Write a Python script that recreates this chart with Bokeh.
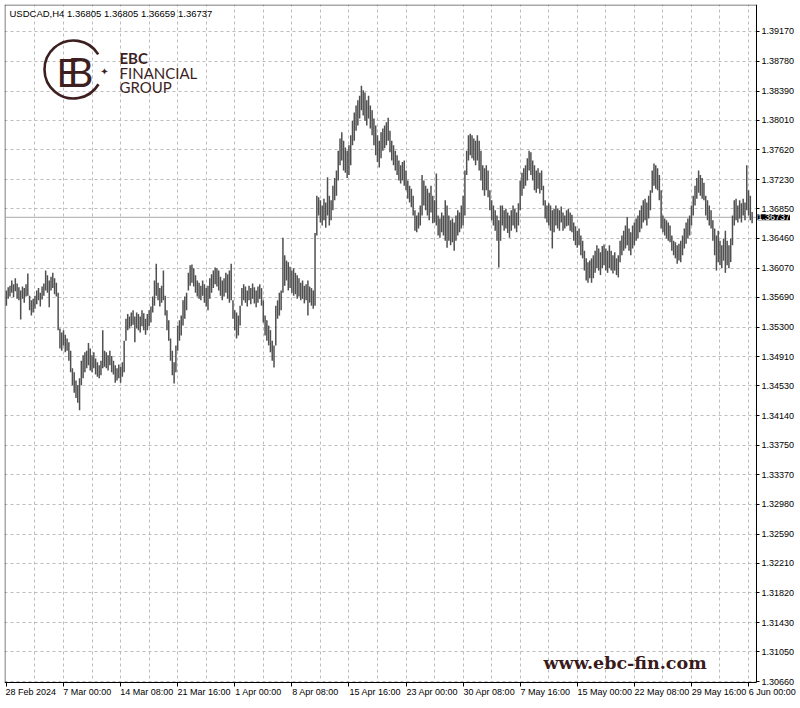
from bokeh.plotting import figure
from bokeh.models import FixedTicker, NumeralTickFormatter, Label, Range1d
from bokeh.embed import file_html
from bokeh.resources import INLINE

# ---------------- data ----------------
symbol = "USDCAD,H4"
last_bar = [1.36805, 1.36805, 1.36659, 1.36737]  # open, high, low, close of the last bar

time_labels = ["28 Feb 2024", "7 Mar 00:00", "14 Mar 08:00", "21 Mar 16:00", "1 Apr 00:00",
               "8 Apr 08:00", "15 Apr 16:00", "23 Apr 00:00", "30 Apr 08:00", "7 May 16:00",
               "15 May 00:00", "22 May 08:00", "29 May 16:00", "6 Jun 00:00"]
bars_per_label = 32
bars_per_grid = 16

price_ticks = [1.39170, 1.38780, 1.38390, 1.38010, 1.37620, 1.37230, 1.36850, 1.36460,
               1.36070, 1.35690, 1.35300, 1.34910, 1.34530, 1.34140, 1.33750, 1.33370,
               1.32980, 1.32590, 1.32210, 1.31820, 1.31430, 1.31050, 1.30660]

highs = [
    1.3578, 1.3582, 1.3584, 1.3591, 1.3586, 1.3594, 1.3587, 1.3582, 1.3578, 1.3583,
    1.3581, 1.3586, 1.3600, 1.3571, 1.3565, 1.3567, 1.3571, 1.3578, 1.3581, 1.3575,
    1.3583, 1.3587, 1.3604, 1.3598, 1.3591, 1.3596, 1.3601, 1.3594, 1.3588, 1.3575,
    1.3528, 1.3523, 1.3526, 1.3520, 1.3515, 1.3510, 1.3499, 1.3476, 1.3471, 1.3460,
    1.3454, 1.3463, 1.3486, 1.3493, 1.3497, 1.3499, 1.3509, 1.3502, 1.3493, 1.3497,
    1.3489, 1.3484, 1.3480, 1.3486, 1.3526, 1.3499, 1.3497, 1.3493, 1.3499, 1.3492,
    1.3486, 1.3480, 1.3476, 1.3481, 1.3478, 1.3484, 1.3512, 1.3541, 1.3547, 1.3544,
    1.3549, 1.3552, 1.3544, 1.3549, 1.3547, 1.3544, 1.3552, 1.3548, 1.3541, 1.3547,
    1.3552, 1.3557, 1.3570, 1.3591, 1.3613, 1.3588, 1.3581, 1.3584, 1.3604, 1.3571,
    1.3552, 1.3539, 1.3515, 1.3499, 1.3484, 1.3506, 1.3532, 1.3539, 1.3545, 1.3565,
    1.3570, 1.3575, 1.3601, 1.3611, 1.3612, 1.3607, 1.3598, 1.3591, 1.3588, 1.3584,
    1.3591, 1.3586, 1.3581, 1.3584, 1.3594, 1.3599, 1.3604, 1.3608, 1.3607, 1.3604,
    1.3596, 1.3591, 1.3594, 1.3601, 1.3599, 1.3604, 1.3613, 1.3565, 1.3552, 1.3549,
    1.3545, 1.3558, 1.3581, 1.3586, 1.3583, 1.3578, 1.3584, 1.3581, 1.3587, 1.3582,
    1.3578, 1.3583, 1.3586, 1.3581, 1.3565, 1.3545, 1.3539, 1.3532, 1.3526, 1.3512,
    1.3506, 1.3558, 1.3565, 1.3575, 1.3578, 1.3647, 1.3624, 1.3617, 1.3615, 1.3609,
    1.3604, 1.3607, 1.3601, 1.3598, 1.3594, 1.3588, 1.3591, 1.3584, 1.3586, 1.3591,
    1.3583, 1.3581, 1.3578, 1.3653, 1.3702, 1.3700, 1.3696, 1.3689, 1.3698, 1.3693,
    1.3726, 1.3702, 1.3696, 1.3715, 1.3725, 1.3735, 1.3761, 1.3777, 1.3785, 1.3774,
    1.3765, 1.3761, 1.3768, 1.3781, 1.3800, 1.3811, 1.3820, 1.3827, 1.3833, 1.3846,
    1.3840, 1.3837, 1.3827, 1.3833, 1.3820, 1.3814, 1.3803, 1.3794, 1.3781, 1.3774,
    1.3785, 1.3790, 1.3794, 1.3798, 1.3804, 1.3787, 1.3774, 1.3768, 1.3761, 1.3755,
    1.3748, 1.3742, 1.3746, 1.3748, 1.3735, 1.3722, 1.3715, 1.3711, 1.3702, 1.3683,
    1.3676, 1.3680, 1.3689, 1.3729, 1.3722, 1.3715, 1.3711, 1.3706, 1.3715, 1.3702,
    1.3696, 1.3731, 1.3676, 1.3672, 1.3680, 1.3676, 1.3696, 1.3689, 1.3676, 1.3670,
    1.3672, 1.3667, 1.3676, 1.3683, 1.3680, 1.3689, 1.3702, 1.3735, 1.3761, 1.3781,
    1.3783, 1.3781, 1.3777, 1.3774, 1.3781, 1.3774, 1.3761, 1.3742, 1.3738, 1.3742,
    1.3735, 1.3709, 1.3696, 1.3689, 1.3683, 1.3676, 1.3670, 1.3689, 1.3689, 1.3683,
    1.3685, 1.3680, 1.3676, 1.3683, 1.3689, 1.3685, 1.3680, 1.3692, 1.3722, 1.3732,
    1.3738, 1.3742, 1.3751, 1.3761, 1.3759, 1.3748, 1.3742, 1.3735, 1.3738, 1.3732,
    1.3735, 1.3715, 1.3696, 1.3689, 1.3692, 1.3689, 1.3683, 1.3685, 1.3689, 1.3685,
    1.3683, 1.3688, 1.3680, 1.3676, 1.3683, 1.3685, 1.3680, 1.3677, 1.3667, 1.3662,
    1.3656, 1.3659, 1.3650, 1.3643, 1.3630, 1.3620, 1.3615, 1.3617, 1.3620, 1.3624,
    1.3630, 1.3637, 1.3633, 1.3628, 1.3636, 1.3638, 1.3633, 1.3630, 1.3637, 1.3630,
    1.3624, 1.3628, 1.3620, 1.3624, 1.3643, 1.3650, 1.3656, 1.3663, 1.3674, 1.3659,
    1.3654, 1.3663, 1.3667, 1.3672, 1.3676, 1.3683, 1.3689, 1.3696, 1.3698, 1.3693,
    1.3702, 1.3709, 1.3735, 1.3744, 1.3742, 1.3738, 1.3729, 1.3709, 1.3676, 1.3672,
    1.3670, 1.3667, 1.3663, 1.3650, 1.3643, 1.3641, 1.3637, 1.3639, 1.3643, 1.3650,
    1.3659, 1.3667, 1.3672, 1.3676, 1.3689, 1.3702, 1.3715, 1.3725, 1.3735, 1.3729,
    1.3725, 1.3719, 1.3702, 1.3696, 1.3689, 1.3683, 1.3670, 1.3659, 1.3650, 1.3656,
    1.3643, 1.3637, 1.3646, 1.3656, 1.3643, 1.3637, 1.3646, 1.3676, 1.3696, 1.3698,
    1.3689, 1.3696, 1.3692, 1.3698, 1.3693, 1.3742, 1.3709, 1.3702, 1.36805,
]

lows = [
    1.3558, 1.3567, 1.3570, 1.3575, 1.3569, 1.3577, 1.3567, 1.3565, 1.3540, 1.3567,
    1.3562, 1.3570, 1.3571, 1.3552, 1.3545, 1.3549, 1.3554, 1.3560, 1.3565, 1.3557,
    1.3566, 1.3571, 1.3578, 1.3575, 1.3556, 1.3578, 1.3581, 1.3573, 1.3570, 1.3526,
    1.3502, 1.3499, 1.3506, 1.3497, 1.3499, 1.3486, 1.3471, 1.3454, 1.3444, 1.3437,
    1.3431, 1.3421, 1.3454, 1.3463, 1.3471, 1.3476, 1.3480, 1.3473, 1.3471, 1.3476,
    1.3468, 1.3465, 1.3463, 1.3467, 1.3476, 1.3478, 1.3476, 1.3473, 1.3480, 1.3471,
    1.3468, 1.3457, 1.3460, 1.3463, 1.3457, 1.3465, 1.3471, 1.3512, 1.3526, 1.3528,
    1.3531, 1.3533, 1.3510, 1.3528, 1.3526, 1.3523, 1.3531, 1.3526, 1.3520, 1.3526,
    1.3531, 1.3536, 1.3549, 1.3558, 1.3571, 1.3565, 1.3557, 1.3562, 1.3565, 1.3545,
    1.3526, 1.3512, 1.3486, 1.3467, 1.3456, 1.3471, 1.3499, 1.3512, 1.3519, 1.3532,
    1.3541, 1.3552, 1.3578, 1.3584, 1.3588, 1.3583, 1.3575, 1.3570, 1.3567, 1.3565,
    1.3571, 1.3562, 1.3557, 1.3552, 1.3567, 1.3575, 1.3581, 1.3586, 1.3583, 1.3578,
    1.3571, 1.3565, 1.3570, 1.3575, 1.3567, 1.3562, 1.3565, 1.3541, 1.3526, 1.3515,
    1.3519, 1.3532, 1.3558, 1.3565, 1.3562, 1.3557, 1.3565, 1.3560, 1.3567, 1.3561,
    1.3556, 1.3562, 1.3567, 1.3558, 1.3536, 1.3519, 1.3512, 1.3506, 1.3497, 1.3486,
    1.3477, 1.3506, 1.3541, 1.3545, 1.3552, 1.3575, 1.3584, 1.3591, 1.3578, 1.3581,
    1.3575, 1.3571, 1.3573, 1.3567, 1.3570, 1.3565, 1.3567, 1.3561, 1.3565, 1.3545,
    1.3562, 1.3558, 1.3554, 1.3558, 1.3650, 1.3676, 1.3667, 1.3663, 1.3670, 1.3660,
    1.3676, 1.3663, 1.3670, 1.3683, 1.3696, 1.3702, 1.3722, 1.3742, 1.3748, 1.3735,
    1.3732, 1.3725, 1.3729, 1.3742, 1.3768, 1.3774, 1.3787, 1.3794, 1.3803, 1.3814,
    1.3807, 1.3800, 1.3794, 1.3803, 1.3790, 1.3781, 1.3768, 1.3755, 1.3746, 1.3739,
    1.3751, 1.3761, 1.3764, 1.3768, 1.3774, 1.3759, 1.3748, 1.3742, 1.3735, 1.3729,
    1.3722, 1.3718, 1.3722, 1.3715, 1.3709, 1.3698, 1.3693, 1.3687, 1.3676, 1.3656,
    1.3654, 1.3659, 1.3663, 1.3676, 1.3689, 1.3683, 1.3676, 1.3670, 1.3680, 1.3666,
    1.3667, 1.3663, 1.3650, 1.3647, 1.3654, 1.3650, 1.3643, 1.3634, 1.3643, 1.3637,
    1.3641, 1.3630, 1.3643, 1.3650, 1.3654, 1.3659, 1.3663, 1.3676, 1.3729, 1.3748,
    1.3755, 1.3751, 1.3748, 1.3742, 1.3748, 1.3735, 1.3722, 1.3709, 1.3702, 1.3709,
    1.3700, 1.3683, 1.3670, 1.3663, 1.3656, 1.3643, 1.3608, 1.3643, 1.3663, 1.3656,
    1.3659, 1.3653, 1.3647, 1.3656, 1.3663, 1.3659, 1.3654, 1.3663, 1.3683, 1.3702,
    1.3711, 1.3715, 1.3722, 1.3735, 1.3729, 1.3722, 1.3709, 1.3706, 1.3711, 1.3705,
    1.3709, 1.3689, 1.3672, 1.3667, 1.3663, 1.3656, 1.3633, 1.3654, 1.3663, 1.3659,
    1.3656, 1.3667, 1.3656, 1.3659, 1.3662, 1.3663, 1.3656, 1.3654, 1.3643, 1.3637,
    1.3634, 1.3637, 1.3624, 1.3620, 1.3604, 1.3591, 1.3588, 1.3594, 1.3588, 1.3594,
    1.3601, 1.3607, 1.3604, 1.3598, 1.3607, 1.3611, 1.3604, 1.3601, 1.3607, 1.3604,
    1.3600, 1.3604, 1.3598, 1.3595, 1.3615, 1.3624, 1.3630, 1.3633, 1.3637, 1.3630,
    1.3624, 1.3633, 1.3637, 1.3643, 1.3646, 1.3654, 1.3659, 1.3667, 1.3670, 1.3663,
    1.3672, 1.3683, 1.3706, 1.3715, 1.3711, 1.3709, 1.3696, 1.3659, 1.3654, 1.3650,
    1.3646, 1.3643, 1.3641, 1.3630, 1.3624, 1.3620, 1.3613, 1.3617, 1.3615, 1.3624,
    1.3633, 1.3639, 1.3646, 1.3650, 1.3663, 1.3676, 1.3689, 1.3698, 1.3706, 1.3702,
    1.3698, 1.3696, 1.3676, 1.3670, 1.3663, 1.3659, 1.3643, 1.3624, 1.3604, 1.3615,
    1.3611, 1.3607, 1.3617, 1.3601, 1.3611, 1.3607, 1.3615, 1.3637, 1.3663, 1.3670,
    1.3667, 1.3672, 1.3667, 1.3676, 1.3670, 1.3683, 1.3676, 1.3670, 1.36659,
]

# ---------------- layout (page pixels -> data) ----------------
n = min(len(highs), len(lows))
bar_index = list(range(n))

W, H = 800, 708
FL, FT = 4, 4                   # chart left / top edges in page pixels
AXR, AXB = 756, 682             # x of the price scale line, y of the time scale line
X0, XA = -1.07, 420.46          # bar index at FL and at AXR
YB, Y1 = 1.30647, 1.39523       # price at AXB and at FT
BAR_PX = (AXR - FL) / (XA - X0)
PRICE_PX = (AXB - FT) / (Y1 - YB)
XEND = X0 + (W - FL) / BAR_PX   # the frame runs to the page edges;
YEND = Y1 - (H - FT) / PRICE_PX  # both scales are drawn inside it


def dx(px):
    return X0 + (px - FL) / BAR_PX


def dy(py):
    return Y1 - (py - FT) / PRICE_PX


p = figure(width=W, height=H, x_range=Range1d(X0, XEND), y_range=Range1d(YEND, Y1),
           y_axis_location="right", output_backend="svg", toolbar_location=None,
           min_border_left=FL, min_border_top=FT, min_border_right=0, min_border_bottom=0)
p.background_fill_color = "white"
p.border_fill_color = "white"
p.outline_line_color = None

AX_FONT = "Liberation Sans"
FONT_PX = 9
INK = "black"
GRID = "#bcbcbc"

# approximate glyph widths (em) to left-align the time labels at their ticks
CHAR_EM = {" ": 0.278, ":": 0.278, "F": 0.611, "M": 0.833, "A": 0.667, "J": 0.5,
           "r": 0.333, "y": 0.5}


def left_aligned(text, first=False):
    if first:
        return "\u00a0\u00a0" + text
    w = sum(CHAR_EM.get(c, 0.556) for c in text)
    return "\u00a0" * int(round(w / 0.278)) + text


# grid
p.xgrid.ticker = FixedTicker(ticks=[i * bars_per_grid for i in range(1, 27)])
p.xgrid.grid_line_color = GRID
p.xgrid.grid_line_dash = "3 3"
p.ygrid.grid_line_color = GRID
p.ygrid.grid_line_dash = "3 3"

# white margins right of the price scale and below the time scale (hide grid there)
p.quad(left=[dx(AXR), X0], right=[XEND, XEND], bottom=[YEND, YEND], top=[Y1, dy(AXB)],
       fill_color="white", line_color=None)

# chart border (left and top)
p.segment(x0=[dx(FL + 0.5), dx(FL)], y0=[dy(AXB), dy(FT + 0.5)],
          x1=[dx(FL + 0.5), dx(AXR)], y1=[Y1, dy(FT + 0.5)], line_color="#555555",
          line_width=1)

# time axis, drawn at the time scale line inside the frame
p.xaxis.fixed_location = dy(AXB)
p.xaxis.ticker = FixedTicker(ticks=[i * bars_per_label for i in range(len(time_labels))])
p.xaxis.major_label_overrides = {i * bars_per_label: left_aligned(t, i == 0)
                                 for i, t in enumerate(time_labels)}
p.xaxis.bounds = (X0, dx(AXR))
p.xaxis.major_label_text_font = AX_FONT
p.xaxis.major_label_text_font_size = f"{FONT_PX}px"
p.xaxis.major_label_text_color = INK
p.xaxis.major_label_standoff = 0
p.xaxis.major_tick_out = 4
p.xaxis.major_tick_in = 0
p.xaxis.minor_tick_line_color = None
p.xaxis.axis_line_color = INK
p.xaxis.major_tick_line_color = INK

# price axis, drawn at the price scale line inside the frame
p.yaxis.fixed_location = dx(AXR)
p.yaxis.bounds = (dy(AXB), Y1)
p.yaxis.ticker = FixedTicker(ticks=price_ticks)
p.yaxis.formatter = NumeralTickFormatter(format="0.00000")
p.yaxis.major_label_text_font = AX_FONT
p.yaxis.major_label_text_font_size = f"{FONT_PX}px"
p.yaxis.major_label_text_color = INK
p.yaxis.major_label_standoff = 2
p.yaxis.major_tick_out = 3
p.yaxis.major_tick_in = 0
p.yaxis.minor_tick_line_color = None
p.yaxis.axis_line_color = INK
p.yaxis.major_tick_line_color = INK

# current price line
p.line(x=[X0, dx(AXR)], y=[last_bar[3], last_bar[3]], line_color="#a9a9a9", line_width=1)

# price bars (high-low)
p.segment(x0=bar_index, y0=lows[:n], x1=bar_index, y1=highs[:n],
          line_color="#505050", line_width=1.5)

# title
title = f"{symbol}  " + " ".join(f"{v:.5f}" for v in last_bar)
p.add_layout(Label(x=dx(9), y=dy(13), text=title, text_font=AX_FONT, text_font_size="9.5px",
                   text_color=INK, text_baseline="middle"))

# current price box on the scale
p.add_layout(Label(x=dx(AXR + 1), y=last_bar[3], text=f"{last_bar[3]:.5f}", text_font=AX_FONT,
                   text_font_size=f"{FONT_PX}px", text_color="white", text_baseline="middle",
                   background_fill_color="black"))

# logo
C = "#3d1f1f"
p.arc(x=[dx(73)], y=[dy(69)], radius=29, radius_units="screen", start_angle=0.55,
      end_angle=5.75, line_color=C, line_width=2.6)
p.add_layout(Label(x=dx(56), y=dy(71), text="E", text_font="Lato", text_font_size="38px",
                   text_color=C, text_baseline="middle"))
p.add_layout(Label(x=dx(67), y=dy(71), text="B", text_font="Lato", text_font_size="40px",
                   text_color=C, text_baseline="middle"))
p.add_layout(Label(x=dx(104), y=dy(71), text="\u2726", text_font="DejaVu Sans",
                   text_font_size="10px", text_color=C, text_baseline="middle",
                   text_align="center"))
p.add_layout(Label(x=dx(119), y=dy(57), text="EBC", text_font="Lato", text_font_style="bold",
                   text_font_size="15px", text_color=C, text_baseline="middle"))
p.add_layout(Label(x=dx(119), y=dy(72), text="FINANCIAL", text_font="Lato",
                   text_font_size="15px", text_color=C, text_baseline="middle"))
p.add_layout(Label(x=dx(119), y=dy(86), text="GROUP", text_font="Lato",
                   text_font_size="15px", text_color=C, text_baseline="middle"))

# website
p.add_layout(Label(x=dx(543), y=dy(662), text="www.ebc-fin.com", text_font="DejaVu Serif",
                   text_font_style="bold", text_font_size="17.5px", text_color="#3a1a1a",
                   text_baseline="middle"))

open("out.html", "w").write(file_html(p, INLINE))
